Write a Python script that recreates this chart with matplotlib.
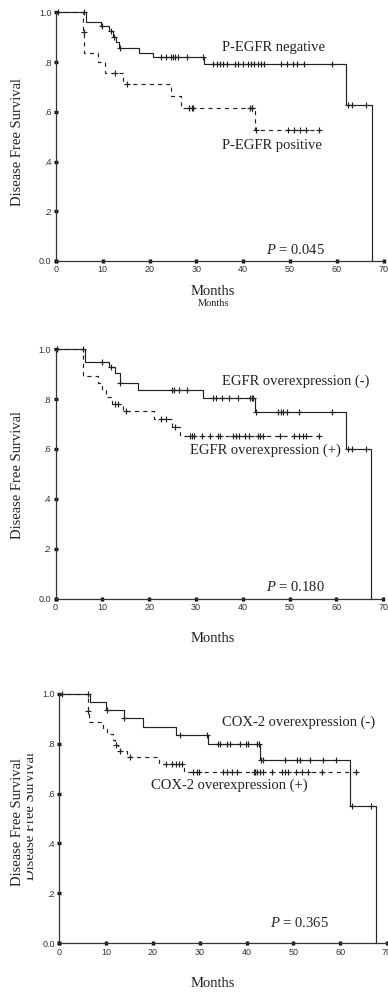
import matplotlib
matplotlib.use("Agg")
import matplotlib.pyplot as plt
import numpy as np
from matplotlib.transforms import Bbox

plt.rcParams["mathtext.fontset"] = "custom"
plt.rcParams["mathtext.it"] = "Liberation Serif:italic"
plt.rcParams["mathtext.rm"] = "Liberation Serif"

# --- panel 1: P-EGFR ---
neg1_events = [6.4, 9.6, 11.4, 12.3, 12.8, 13.5, 17.7, 20.8, 31.6, 61.9, 67.5]
neg1_levels = [0.962, 0.945, 0.925, 0.902, 0.882, 0.858, 0.835, 0.819, 0.791, 0.627, 0.0]
neg1_censor = [0.5, 5.9, 9.8, 11.8, 12.5, 13.7, 22.5, 23.5, 24.5, 25.1, 25.5, 26.0, 28.1,
               31.4, 33.6, 34.4, 35.1, 35.7, 36.6, 38.3, 38.9, 40.0, 41.0, 41.7, 42.4,
               43.1, 43.9, 44.5, 48.2, 49.3, 50.6, 51.6, 53.0, 58.9, 62.5, 63.3, 66.3]
pos1_events = [5.85, 6.1, 8.9, 10.5, 14.3, 24.5, 26.7, 42.5]
pos1_levels = [0.922, 0.838, 0.800, 0.757, 0.710, 0.665, 0.614, 0.527]
pos1_censor = [6.0, 12.6, 15.1, 28.4, 29.0, 29.4, 41.5, 41.8, 42.0, 42.8,
               49.6, 50.8, 52.2, 53.4, 56.2]

# --- panel 2: EGFR overexpression ---
neg2_events = [6.4, 11.4, 12.7, 13.7, 17.7, 31.6, 42.7, 62.0, 67.5]
neg2_levels = [0.951, 0.928, 0.905, 0.866, 0.837, 0.804, 0.747, 0.598, 0.0]
neg2_censor = [0.4, 5.9, 10.0, 11.9, 13.8, 24.8, 25.4, 26.4, 28.1, 33.6, 34.4, 35.5,
               37.0, 38.9, 41.6, 41.9, 42.3, 42.9, 47.5, 48.2, 48.7, 49.5, 52.0, 59.0,
               62.6, 63.3, 66.3]
pos2_events = [5.9, 9.0, 10.0, 10.8, 12.0, 14.5, 21.0, 24.8, 26.6]
pos2_levels = [0.893, 0.866, 0.837, 0.808, 0.781, 0.752, 0.722, 0.690, 0.652]
pos2_censor = [12.7, 13.3, 15.1, 22.6, 23.6, 25.6, 28.7, 29.2, 29.6, 31.2, 33.0, 34.8,
               35.2, 38.0, 38.5, 39.3, 40.5, 41.4, 43.3, 43.8, 44.4, 47.9, 50.9, 52.0,
               52.8, 53.5, 56.4]

# --- panel 3: COX-2 overexpression ---
neg3_events = [6.6, 10.0, 13.8, 17.9, 24.9, 31.8, 42.9, 62.1, 67.6]
neg3_levels = [0.967, 0.935, 0.902, 0.868, 0.834, 0.797, 0.735, 0.551, 0.0]
neg3_censor = [0.5, 6.1, 10.1, 13.9, 25.8, 31.6, 33.9, 34.4, 35.8, 36.5, 38.6, 39.8,
               40.4, 42.3, 42.6, 43.2, 43.5, 48.2, 50.8, 51.4, 53.6, 56.4, 59.2, 62.5, 66.5]
pos3_events = [6.1, 6.4, 9.3, 10.1, 11.5, 11.9, 12.5, 14.4, 21.2, 26.6]
pos3_levels = [0.929, 0.887, 0.863, 0.840, 0.816, 0.796, 0.772, 0.745, 0.718, 0.688]
pos3_censor = [6.2, 12.1, 13.0, 15.2, 22.9, 24.0, 24.9, 25.6, 26.2, 28.5, 29.4, 29.9,
               35.0, 35.9, 36.9, 37.9, 41.5, 41.9, 42.3, 42.8, 43.5, 45.4, 47.6, 48.2,
               48.8, 50.6, 51.8, 53.2, 56.1, 63.5]

labels = [("P-EGFR negative", "P-EGFR positive", "0.045"),
          ("EGFR overexpression (-)", "EGFR overexpression (+)", "0.180"),
          ("COX-2 overexpression (-)", "COX-2 overexpression (+)", "0.365")]

y_ticks = [0, 0.2, 0.4, 0.6, 0.8, 1.0]
y_ticklabels = ["0.0", ".2", ".4", ".6", ".8", "1.0"]
x_ticks = [0, 10, 20, 30, 40, 50, 60, 70]

W, H = 388, 996
fig = plt.figure(figsize=(W / 100, H / 100), dpi=100)

# axes boxes in pixels: left, top, right, bottom
boxes = [(55.9, 12.3, 383.5, 261.0),
         (55.5, 349.3, 383.1, 598.5),
         (59.3, 693.7, 386.9, 943.3)]
# label positions in data coords: (neg x, neg y), (pos x, pos y), (p x, p y)
text_pos = [((35.5, 0.858), (35.5, 0.464), (45.0, 0.045)),
            ((35.6, 0.870), (28.7, 0.593), (45.0, 0.045)),
            ((34.8, 0.885), (19.7, 0.634), (45.0, 0.081))]
months_y = [291, 638, 983]
ylab_y = [141.7, 475, 821.7]

curves = [(neg1_events, neg1_levels, neg1_censor, pos1_events, pos1_levels, pos1_censor),
          (neg2_events, neg2_levels, neg2_censor, pos2_events, pos2_levels, pos2_censor),
          (neg3_events, neg3_levels, neg3_censor, pos3_events, pos3_levels, pos3_censor)]

col = "#222222"
serif = "Liberation Serif"
sans = "Liberation Sans"


def draw_km(ax, events, levels, censor, end, dashed):
    ev = np.asarray(events)
    lv = np.r_[1.0, levels]
    x = np.r_[0, ev, end]
    y = np.r_[lv, lv[-1]]
    kw = dict(color=col, lw=0.85, clip_on=False)
    if dashed:
        ax.step(x, y, where="post", dashes=(3.5, 3.5), **kw)
    else:
        ax.step(x, y, where="post", **kw)
    cy = lv[np.searchsorted(ev, censor, side="right")]
    ax.plot(censor, cy, ls="none", marker="+", ms=5, mew=0.85, color=col, clip_on=False)


for i, (l, t, r, b) in enumerate(boxes):
    ax = fig.add_axes([l / W, 1 - b / H, (r - l) / W, (b - t) / H])
    ne, nl, nc, pe, pl, pc = curves[i]
    draw_km(ax, ne, nl, nc, ne[-1], False)
    draw_km(ax, pe, pl, pc, max(pc), True)

    ax.set_xlim(0, 70)
    ax.set_ylim(0, 1)
    for s in ["top", "right"]:
        ax.spines[s].set_visible(False)
    for s in ["left", "bottom"]:
        ax.spines[s].set_color("#333333")
        ax.spines[s].set_linewidth(0.9)
    ax.set_xticks(x_ticks)
    ax.set_yticks(y_ticks)
    ax.set_yticklabels(y_ticklabels)
    ax.tick_params(direction="inout", length=2.4, width=2.4, color="#111111",
                   labelsize=6.5, labelcolor="#333333", pad=2)
    for lab in ax.get_xticklabels() + ax.get_yticklabels():
        lab.set_fontfamily(sans)

    (nx, ny), (px, py), (qx, qy) = text_pos[i]
    ax.text(nx, ny, labels[i][0], fontsize=10.5, family=serif, color=col, va="center")
    ax.text(px, py, labels[i][1], fontsize=10.5, family=serif, color=col, va="center")
    ax.text(qx, qy, r"$\it{P}$ = " + labels[i][2], fontsize=10.5, family=serif,
            color=col, va="center")

    fig.text(213 / W, 1 - months_y[i] / H, "Months", fontsize=10.5, family=serif,
             color=col, ha="center", va="center")
    fig.text(18 / W, 1 - ylab_y[i] / H, "Disease Free Survival", fontsize=10.5,
             family=serif, color=col, rotation=90, ha="center", va="center")

# small duplicate axis title under the first panel
fig.text(213 / W, 1 - 304 / H, "Months", fontsize=7.5, family=serif, color=col,
         ha="center", va="center")

# clipped ghost copy of the y title in the third panel
ghost = fig.text(30 / W, 1 - 816 / H, "Disease Free Survival", fontsize=10.5,
                 family=serif, color=col, rotation=90, ha="center", va="center")
ghost.set_clip_box(Bbox.from_extents(27, H - 900, 40, H - 700))
ghost.set_clip_on(True)

fig.savefig("out.png", dpi=100)
